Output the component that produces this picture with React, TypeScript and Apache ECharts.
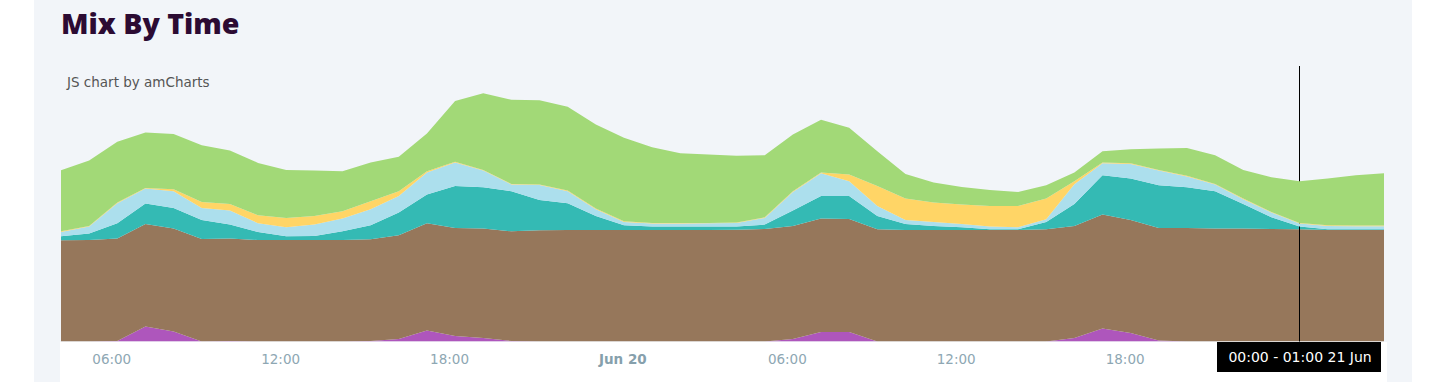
import React, { useEffect, useRef } from "react";
import * as echarts from "echarts";

// hours since 19 Jun 00:00 (one point per hour)
const hours = [
  4, 5, 6, 7, 8, 9, 10, 11, 12, 13, 14, 15, 16, 17, 18, 19, 20, 21, 22, 23,
  24, 25, 26, 27, 28, 29, 30, 31, 32, 33, 34, 35, 36, 37, 38, 39, 40, 41, 42, 43,
  44, 45, 46, 47, 48, 49, 50, 51,
];

const tickHours = [6, 12, 18, 24, 30, 36, 42];
const tickLabels = ["06:00", "12:00", "18:00", "Jun 20", "06:00", "12:00", "18:00"];

const purple = [
  0, 0, 0.5, 15, 10, 0, 0.5, 0, 0, 0,
  0, 0.5, 2.5, 11, 5.5, 3.5, 0.5, 0, 0, 0,
  0, 0, 0, 0, 0, 0, 2.5, 9.5, 9.5, 0,
  0, 0, 0, 0, 0, 0, 3.5, 13, 8.5, 1,
  0, 0, 0, 0, 0, 0, 0, 0,
];
const brown = [
  101, 101.3, 102.2, 102.3, 102.7, 102.3, 102.2, 101.3, 101.3, 101.3,
  101.3, 101.5, 103.5, 107, 107.8, 109.2, 109.5, 111, 111.3, 111.3,
  111.3, 111.3, 111.3, 111.3, 111.5, 112.3, 112.8, 113.2, 112.8, 112,
  111.3, 111.3, 111.3, 111.3, 111.3, 112, 111.8, 113.7, 112.8, 112.3,
  113.3, 112.7, 112.7, 112.3, 112, 111.3, 111.3, 111.3,
];
const teal = [
  4, 6.4, 15.3, 20.4, 20.6, 19, 14, 8, 3.7, 4,
  8.7, 14, 22.7, 28.7, 42, 41.3, 40, 30.3, 26.7, 14,
  4.7, 3.4, 3.4, 3.4, 3.2, 4.4, 15.4, 22.6, 23, 13.3,
  6, 4, 2.7, 0.7, 0.7, 7.3, 22, 39.3, 41.4, 42.7,
  40.7, 37.3, 24.6, 11.7, 2.7, 0.7, 0.7, 0.7,
];
const lightBlue = [
  4.3, 7, 20, 15, 16.7, 12, 14, 8.7, 9, 11.4,
  12.7, 16, 16.6, 22, 23.4, 16.7, 6.7, 15, 12, 6.7,
  3.3, 3, 3, 3.3, 3.6, 6.6, 18.6, 22.7, 14.7, 10,
  4, 4, 3.3, 2.7, 2, 2.7, 19.7, 12, 14.6, 14.7,
  10.7, 6.7, 4.7, 4.7, 3, 3.3, 3, 3,
];
const yellow = [
  0.7, 0.6, 0.7, 0.6, 2, 6, 6.6, 8, 9.3, 8.6,
  7.3, 8, 4.7, 1.3, 0.6, 0.6, 0.6, 0.4, 0.7, 0.7,
  0.7, 0.6, 0.6, 0.3, 0.4, 0.7, 0.7, 0.7, 6.7, 20,
  21.4, 19.4, 19.4, 20.6, 21.3, 20.7, 3, 0.7, 0.7, 0.6,
  0.7, 0.6, 0.7, 0.6, 0.6, 0.7, 0.7, 0.7,
];
const green = [
  61, 65.4, 60.6, 55.4, 55, 56.7, 53.4, 52.3, 48, 45.4,
  40, 38.7, 34.3, 37.7, 60.7, 76.4, 84, 84, 83.6, 84,
  83.3, 75.7, 69.7, 68.4, 66.6, 62, 56.7, 52.6, 46.6, 34.7,
  24.6, 20, 17.6, 16, 14, 13.3, 8.7, 11.3, 14, 21.4,
  27.7, 28.7, 28.6, 34.7, 41.7, 46.7, 50.3, 52.3,
];

const seriesDefs = [
  { name: "Coal", data: purple, color: "#ae56bc" },
  { name: "Nuclear", data: brown, color: "#96775b" },
  { name: "Gas", data: teal, color: "#34bab4" },
  { name: "Hydro", data: lightBlue, color: "#acdfed" },
  { name: "Solar", data: yellow, color: "#ffd566" },
  { name: "Wind", data: green, color: "#a2d977" },
];

const cursorHour = 48;
const cursorText = "00:00 - 01:00 21 Jun";

const X_MIN = 4;
const X_MAX = 51;
const LABEL_SHIFT = 0.888; // labels start 25px left of their grid line

export default function App() {
  const ref = useRef<HTMLDivElement>(null);

  useEffect(() => {
    if (!ref.current) return;
    const chart = echarts.init(ref.current, null, { renderer: "svg" });
    const labelFont = "'DejaVu Sans', Verdana, sans-serif";
    const series: any[] = seriesDefs.map((s, i) => ({
      name: s.name,
      type: "line",
      stack: "mix",
      xAxisIndex: 0,
      symbol: "none",
      lineStyle: { width: 0 },
      areaStyle: { color: s.color, opacity: 1 },
      itemStyle: { color: s.color },
      data: s.data,
      z: 2 + i,
    }));
    series[series.length - 1].markLine = {
      silent: true,
      symbol: "none",
      label: { show: false },
      lineStyle: { color: "#000000", width: 1, type: "solid" },
      data: [{ xAxis: String(cursorHour) }],
    };

    chart.setOption({
      animation: false,
      backgroundColor: "#ffffff",
      grid: { left: 61, top: 66, width: 1323, height: 275.5 },
      xAxis: [
        {
          type: "category",
          data: hours.map(String),
          boundaryGap: false,
          show: false,
        },
        {
          type: "value",
          min: X_MIN + LABEL_SHIFT,
          max: X_MAX + LABEL_SHIFT,
          position: "bottom",
          axisLine: { show: false },
          axisTick: { show: false },
          splitLine: { show: false },
          axisLabel: {
            customValues: tickHours,
            align: "left",
            verticalAlign: "middle",
            margin: 17.5,
            color: "#8ea7b3",
            fontSize: 13.5,
            fontFamily: labelFont,
            formatter: (v: number) => {
              const i = tickHours.indexOf(Math.round(v));
              if (i < 0) return "";
              const t = tickLabels[i];
              return t.indexOf(":") < 0 ? "{b|" + t + "}" : t;
            },
            rich: {
              b: {
                fontWeight: "bold",
                fontSize: 13.5,
                fontFamily: labelFont,
                color: "#86a0ac",
              },
            },
          },
        },
      ],
      yAxis: { type: "value", min: 0, max: 275, show: false },
      series,
      graphic: [
        {
          type: "rect",
          z: -2,
          shape: { x: 34, y: 0, width: 1378, height: 382 },
          style: { fill: "#f2f5f9" },
        },
        {
          type: "rect",
          z: -1,
          shape: { x: 60, y: 342, width: 1327, height: 40 },
          style: { fill: "#ffffff" },
        },
        {
          type: "text",
          z: 20,
          x: 61,
          y: 23,
          style: {
            text: "Mix By Time",
            fill: "#2c0b33",
            font: "800 28.5px 'Open Sans', sans-serif",
            verticalAlign: "middle",
            align: "left",
          },
        },
        {
          type: "text",
          z: 20,
          x: 67,
          y: 81.5,
          style: {
            text: "JS chart by amCharts",
            fill: "#555555",
            font: "13.5px 'DejaVu Sans', Verdana, sans-serif",
            verticalAlign: "middle",
            align: "left",
          },
        },
        {
          type: "rect",
          z: 50,
          shape: { x: 1217, y: 342, width: 164, height: 30 },
          style: { fill: "#000000" },
        },
        {
          type: "text",
          z: 51,
          x: 1300,
          y: 357,
          style: {
            text: cursorText,
            fill: "#ffffff",
            font: "14px 'DejaVu Sans', Verdana, sans-serif",
            verticalAlign: "middle",
            align: "center",
          },
        },
      ],
    });
    return () => chart.dispose();
  }, []);

  return (
    <div
      ref={ref}
      style={{ position: "fixed", left: 0, top: 0, width: 1450, height: 382 }}
    />
  );
}
